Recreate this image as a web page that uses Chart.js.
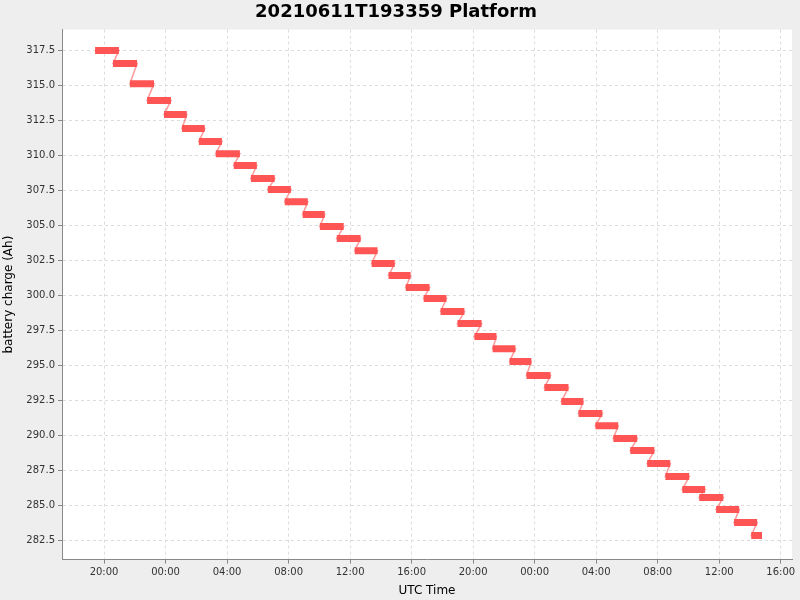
<!DOCTYPE html>
<html>
<head>
<meta charset="utf-8">
<script src="https://cdn.jsdelivr.net/npm/chart.js@4"></script>
<style>
  body { margin: 0; background: #eeeeee; }
  #wrap { width: 800px; height: 600px; }
</style>
</head>
<body>
<div id="wrap"><canvas id="chart"></canvas></div>
<script>
// minutes after 2021-06-11 20:00 UTC
const baseTime = Date.UTC(2021, 5, 11, 20, 0);
const startMin = [-35, 35, 101, 168, 234, 304, 370, 436, 506, 573, 639, 705, 775, 842, 908, 978, 1044, 1110, 1177, 1247,
  1313, 1379, 1445, 1516, 1582, 1648, 1718, 1784, 1851, 1917, 1987, 2053, 2119, 2190, 2256, 2322, 2388, 2458, 2525];
const endMin = [58, 129, 195, 261, 323, 393, 460, 530, 596, 666, 729, 795, 861, 935, 1001, 1067, 1134, 1196, 1270, 1336,
  1406, 1473, 1531, 1605, 1667, 1742, 1812, 1870, 1944, 2006, 2080, 2147, 2209, 2283, 2345, 2416, 2478, 2548, 2567];
const charge = [317.5, 316.57, 315.14, 313.93, 312.93, 311.93, 311.0, 310.14, 309.29, 308.36, 307.57, 306.71, 305.79,
  304.93, 304.07, 303.21, 302.29, 301.43, 300.57, 299.79, 298.86, 298.0, 297.07, 296.21, 295.29, 294.29, 293.43,
  292.43, 291.57, 290.71, 289.79, 288.93, 288.0, 287.07, 286.14, 285.57, 284.71, 283.79, 282.86];
const yTicks = [282.5, 285, 287.5, 290, 292.5, 295, 297.5, 300, 302.5, 305, 307.5, 310, 312.5, 315, 317.5];

const toMs = m => baseTime + m * 60000;
const barPts = [];
const linkPts = [];
charge.forEach((v, i) => {
  barPts.push({ x: toMs(startMin[i]), y: v }, { x: toMs(endMin[i]), y: v }, { x: toMs(endMin[i]), y: null });
  linkPts.push({ x: toMs(startMin[i]), y: v }, { x: toMs(endMin[i]), y: v });
});

const plotBg = {
  id: 'plotBg',
  beforeDraw(c) {
    const a = c.chartArea;
    c.ctx.save();
    c.ctx.fillStyle = '#ffffff';
    c.ctx.fillRect(a.left, a.top, a.right - a.left, a.bottom - a.top);
    c.ctx.restore();
  }
};

const pad = n => String(n).padStart(2, '0');

new Chart(document.getElementById('chart'), {
  type: 'line',
  data: {
    datasets: [
      { data: linkPts, borderColor: 'rgba(255,85,85,0.6)', borderWidth: 1.5, pointRadius: 0, tension: 0 },
      { data: barPts, borderColor: '#ff5555', borderWidth: 7, borderCapStyle: 'butt', pointRadius: 0, spanGaps: false, tension: 0 }
    ]
  },
  options: {
    responsive: true,
    maintainAspectRatio: false,
    animation: false,
    layout: { padding: { top: 0, right: 8, left: 0, bottom: 0 } },
    plugins: {
      legend: { display: false },
      tooltip: { enabled: false },
      title: {
        display: true, text: '20210611T193359 Platform', color: '#000',
        font: { family: 'DejaVu Sans', size: 18, weight: 'bold' }, padding: { top: 2, bottom: 6 }
      }
    },
    scales: {
      x: {
        type: 'linear',
        min: toMs(-164), max: toMs(2684),
        afterBuildTicks: ax => {
          const step = 4 * 3600000;
          const t = [];
          for (let v = Math.ceil(ax.min / step) * step; v <= ax.max; v += step) t.push({ value: v });
          ax.ticks = t;
        },
        ticks: {
          color: '#333', font: { family: 'DejaVu Sans', size: 10 }, maxRotation: 0,
          callback: v => { const d = new Date(v); return pad(d.getUTCHours()) + ':' + pad(d.getUTCMinutes()); }
        },
        grid: { color: '#dddddd', tickColor: '#888', tickLength: 4 },
        border: { color: '#888', dash: [3, 3] },
        title: { display: true, text: 'UTC Time', color: '#000', font: { family: 'DejaVu Sans', size: 12 }, padding: 2 }
      },
      y: {
        min: 281.14, max: 319.0,
        afterBuildTicks: ax => { ax.ticks = yTicks.map(v => ({ value: v })); },
        afterFit: ax => { ax.width = 62; },
        ticks: { color: '#333', font: { family: 'DejaVu Sans', size: 10 }, callback: v => v.toFixed(1) },
        grid: { color: '#dddddd', tickColor: '#888', tickLength: 4 },
        border: { color: '#888', dash: [3, 3] },
        title: { display: true, text: 'battery charge (Ah)', color: '#000', font: { family: 'DejaVu Sans', size: 12 }, padding: 2 }
      }
    }
  },
  plugins: [plotBg]
});
</script>
</body>
</html>
